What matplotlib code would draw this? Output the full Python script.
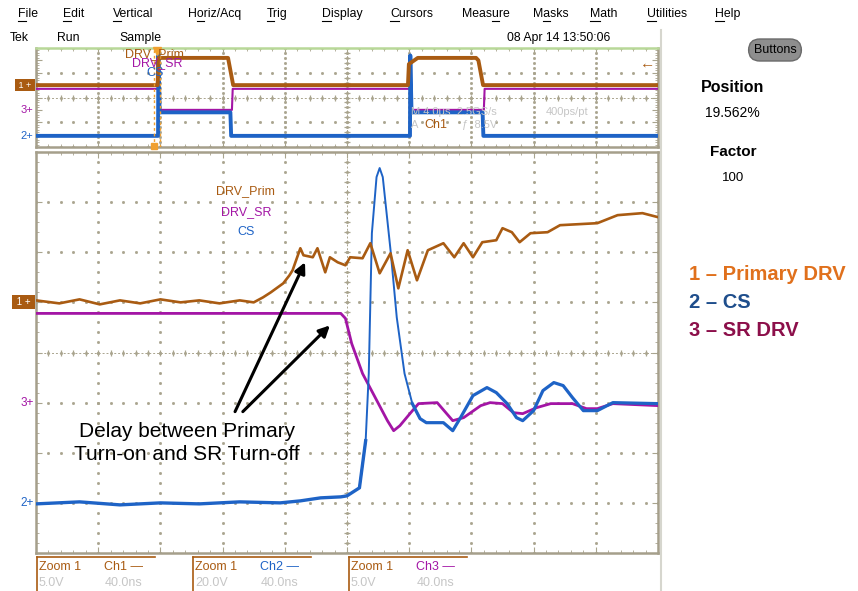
import numpy as np
import matplotlib.pyplot as plt
from matplotlib.lines import Line2D

plt.rcParams["font.family"] = ["Liberation Sans", "DejaVu Sans"]

W, H = 858, 591

BROWN = "#a95b12"
BLUE = "#1e63c6"
PURPLE = "#a315a5"
GRID = "#a9a48e"
FRAME = "#a59f8b"
PALE = "#c6c6c6"

# vertical setup: volts per division and marker position (div)
CH_SCALE = {1: 5.0, 2: 20.0, 3: 5.0}
CH_POS = {1: 1.0, 2: -3.0, 3: -1.0}
ZOOM_NS_DIV = 40.0
MAIN_US_DIV = 4.0

# zoomed window (ns, V)
ch1_t = [0, 15, 28, 41, 54, 67, 80, 93, 105, 118, 131, 140, 146, 151, 159, 163, 165, 170, 172, 178,
         181, 186, 189, 194, 199, 202, 210, 215, 221, 228, 233, 239, 245, 252, 262, 269, 275, 281, 287, 296,
         300, 306, 311, 318, 329, 337, 361, 374, 390, 400]
ch1_v = [0.2, -0.1, 0.3, -0.2, 0.2, -0.1, 0.3, 0.0, 0.2, -0.1, 0.2, 0.0, 0.5, 1.0, 1.9, 2.7, 3.2, 5.4, 4.7, 4.5,
         5.4, 3.0, 4.5, 4.0, 3.7, 4.5, 4.4, 5.9, 2.9, 4.9, 1.4, 5.2, 2.2, 5.2, 5.9, 4.5, 5.9, 4.5, 6.0, 6.2,
         7.4, 7.0, 6.0, 6.9, 7.0, 7.7, 7.9, 8.7, 8.9, 8.5]

ch2_t = [0, 28, 54, 80, 105, 131, 157, 170, 183, 196, 200, 205, 208, 212, 214, 216, 219, 221, 223, 228,
         232, 237, 242, 247, 251, 262, 268, 273, 281, 290, 296, 303, 309, 313, 320, 326, 333, 339, 345, 352,
         361, 371, 400]
ch2_v = [-0.4, 0.4, -0.8, 0.0, -0.4, 0.4, 0.0, 0.8, 2.0, 2.4, 2.8, 4.8, 6.0, 24.8, 51.6, 107.6, 130.0, 133.6, 130.0, 100.8,
         74.0, 51.6, 39.6, 33.6, 32.0, 32.0, 28.8, 34.0, 42.8, 46.0, 44.0, 39.6, 34.0, 32.8, 36.8, 44.8, 48.0, 46.8, 42.0, 36.8,
         36.8, 40.0, 39.6]

ch3_t = [0, 189, 196, 199, 203, 210, 226, 230, 234, 241, 246, 258, 268, 275, 286, 292, 300, 307, 313, 322,
         331, 345, 354, 361, 371, 400]
ch3_v = [8.9, 8.9, 8.9, 8.4, 5.9, 2.9, -1.8, -2.8, -2.3, -1.0, -0.1, 0.0, -1.8, -1.5, -0.3, 0.0, -0.1, -1.0, -1.1, -0.5,
         -0.1, -0.1, -0.6, -0.6, -0.1, -0.3]

# full record (us, V)
top1_t = [0, 7.82, 7.88, 12.35, 12.68, 23.92, 23.98, 24.55, 28.30, 28.45, 28.75, 40]
top1_v = [0, 0, 11, 11, 0, 0, 8.5, 11, 11, 10, 0, 0]
top2_t = [0, 7.85, 7.87, 7.95, 12.5, 12.55, 24.05, 24.07, 24.15, 28.72, 28.77, 40]
top2_v = [0, 0, 130, 38, 38, 0, 0, 130, 38, 38, 0, 0]
top3_t = [0, 7.85, 7.87, 12.6, 12.65, 24.05, 24.07, 28.8, 28.85, 40]
top3_v = [8.5, 8.5, 0, 0, 8.5, 8.5, 0, 0, 8.5, 8.5]

menu = ["File", "Edit", "Vertical", "Horiz/Acq", "Trig", "Display", "Cursors",
        "Measure", "Masks", "Math", "Utilities", "Help"]
menu_key = [0, 0, 0, 1, 0, 0, 0, 4, 1, 0, 0, 0]
menu_x = [18, 63, 113, 188, 267, 322, 390, 462, 533, 590, 647, 715]


def fx(x):
    return x / W


def fy(y):
    return 1 - y / H


def screen(ch, v):
    return CH_POS[ch] + np.asarray(v) / CH_SCALE[ch]


def scope_grid(ax, xdiv, vstep, rows):
    xs = np.arange(0, 10 * xdiv + 1e-9, 0.2 * xdiv)
    ys = np.arange(-4, 4.001, vstep)
    for x in np.arange(1, 10) * xdiv:
        ax.plot(np.full_like(ys, x), ys, ls="none", marker="s", ms=1.0, color=GRID, zorder=1)
    for y in rows:
        ax.plot(xs, np.full_like(xs, y), ls="none", marker="s", ms=1.0, color=GRID, zorder=1)
    ax.plot(np.full_like(ys, 5 * xdiv), ys, ls="none", marker="_", ms=4, mew=0.9, color=GRID, zorder=1)
    ax.plot(xs, np.zeros_like(xs), ls="none", marker="|", ms=4, mew=0.9, color=GRID, zorder=1)
    ax.axhline(0, color=GRID, lw=0.7, ls=(0, (2, 2)), zorder=1)
    ax.axvline(5 * xdiv, color=GRID, lw=0.7, ls=(0, (2, 2)), zorder=1)
    ax.set_xlim(0, 10 * xdiv)
    ax.set_ylim(-4, 4)
    ax.set_xticks(np.arange(11) * xdiv)
    ax.set_yticks(np.arange(-4, 5))
    ax.set_xticks(xs, minor=True)
    ax.set_yticks(np.arange(-4, 4.001, 0.2), minor=True)
    ax.tick_params(which="both", direction="in", color=GRID, top=True, right=True,
                   labelbottom=False, labelleft=False)
    ax.tick_params(which="major", length=4)
    ax.tick_params(which="minor", length=2.5)
    for s in ax.spines.values():
        s.set_color(FRAME)
        s.set_linewidth(1.8)


fig = plt.figure(figsize=(W / 100, H / 100), dpi=100)
fig.patch.set_facecolor("white")

# ---- overview ----
axt = fig.add_axes([fx(36), fy(147), 622 / W, 99 / H])
scope_grid(axt, MAIN_US_DIV, 0.4, [-4, -2, 0, 2, 4])
axt.spines["top"].set_color("#b8d898")
axt.plot(top3_t, screen(3, top3_v), color=PURPLE, lw=1.5, zorder=3)
axt.plot(top2_t, screen(2, top2_v) - 0.1, color=BLUE, lw=2.8, zorder=4)
axt.plot(top1_t, screen(1, top1_v), color=BROWN, lw=2.8, zorder=5)
for xz in (7.6, 7.95):
    axt.axvline(xz, color="#f0a030", lw=1.0, ls=(0, (2, 2)), zorder=6)
axt.plot([7.8], [3.75], marker="v", ms=6, color="#f0a030", zorder=7, clip_on=False)
axt.plot([7.6], [-3.9], marker="s", ms=5, color="#f0a030", zorder=7, clip_on=False)
axt.text(5.7, 3.5, "DRV_Prim", color=BROWN, fontsize=9, va="center", zorder=8)
axt.text(6.15, 2.75, "DRV_SR", color=PURPLE, fontsize=9, va="center", zorder=8)
axt.text(7.1, 2.0, "CS", color=BLUE, fontsize=9, va="center", zorder=8)
axt.text(24.1, -1.15, "M 4.0\u03bcs  2.5GS/s", color=PALE, fontsize=8, va="center", zorder=8)
axt.text(32.8, -1.15, "400ps/pt", color=PALE, fontsize=8, va="center", zorder=8)
axt.text(24.1, -2.25, "A", color=PALE, fontsize=8, va="center", zorder=8)
axt.text(25.0, -2.25, "Ch1", color=BROWN, fontsize=9, va="center", zorder=8)
axt.text(27.4, -2.25, "\u0192  8.5V", color=PALE, fontsize=8, va="center", zorder=8)
axt.text(39.8, 2.7, "\u2190", color=BROWN, fontsize=11, ha="right", va="center", zorder=8)
ty = axt.get_yaxis_transform()
axt.text(-0.004, CH_POS[1], " 1 + ", transform=ty, ha="right", va="center", fontsize=6.5,
         color="white", bbox=dict(boxstyle="square,pad=0.15", fc=BROWN, ec="none"), clip_on=False)
axt.text(-0.004, CH_POS[3] - 0.05, "3+", transform=ty, ha="right", va="center", fontsize=8,
         color=PURPLE, clip_on=False)
axt.text(-0.004, CH_POS[2] - 0.1, "2+", transform=ty, ha="right", va="center", fontsize=8,
         color=BLUE, clip_on=False)

# ---- zoomed window ----
ax = fig.add_axes([fx(36), fy(553), 622 / W, 401 / H])
scope_grid(ax, ZOOM_NS_DIV, 0.2, list(range(-3, 4)))
t2 = np.array(ch2_t)
y2 = screen(2, ch2_v)
ax.plot(ch3_t, screen(3, ch3_v), color=PURPLE, lw=2.0, zorder=3)
ax.plot(t2[t2 <= 212], y2[t2 <= 212], color=BLUE, lw=2.4, zorder=4)
ax.plot(t2[(t2 >= 208) & (t2 <= 247)], y2[(t2 >= 208) & (t2 <= 247)], color=BLUE, lw=1.4, zorder=4)
ax.plot(t2[t2 >= 242], y2[t2 >= 242], color=BLUE, lw=2.3, zorder=4)
ax.plot(ch1_t, screen(1, ch1_v), color=BROWN, lw=1.9, zorder=5)
ax.text(135, 3.22, "DRV_Prim", color=BROWN, fontsize=9, ha="center", va="center")
ax.text(135, 2.8, "DRV_SR", color=PURPLE, fontsize=9, ha="center", va="center")
ax.text(135, 2.4, "CS", color=BLUE, fontsize=9, ha="center", va="center")
ty = ax.get_yaxis_transform()
ax.text(-0.004, CH_POS[1], " 1 + ", transform=ty, ha="right", va="center", fontsize=7,
        color="white", bbox=dict(boxstyle="square,pad=0.2", fc=BROWN, ec="none"), clip_on=False)
ax.text(-0.004, CH_POS[3], "3+", transform=ty, ha="right", va="center", fontsize=8.5,
        color=PURPLE, clip_on=False)
ax.text(-0.004, CH_POS[2], "2+", transform=ty, ha="right", va="center", fontsize=8.5,
        color=BLUE, clip_on=False)

arrow = dict(arrowstyle="-|>", color="black", lw=2.2, mutation_scale=16, shrinkA=0, shrinkB=0)
ax.annotate("", xy=(173, 1.8), xytext=(128, -1.18), arrowprops=arrow, zorder=9)
ax.annotate("", xy=(189, 0.54), xytext=(133, -1.18), arrowprops=arrow, zorder=9)
fig.text(fx(187), fy(443), "Delay between Primary\nTurn-on and SR Turn-off", ha="center",
         va="center", fontsize=15, linespacing=1.25, color="black")

# ---- bottom readouts ----
ch_color = {1: BROWN, 2: BLUE, 3: PURPLE}
for i, x0 in zip((1, 2, 3), (37, 193, 349)):
    fig.add_artist(Line2D([fx(x0), fx(x0 + 118)], [fy(557), fy(557)], color=BROWN, lw=1.2))
    fig.add_artist(Line2D([fx(x0), fx(x0)], [fy(557), fy(591)], color=BROWN, lw=1.2))
    fig.text(fx(x0 + 2), fy(567), "Zoom 1", color=BROWN, fontsize=9, va="center")
    fig.text(fx(x0 + 67), fy(567), f"Ch{i} \u2014", color=ch_color[i], fontsize=9, va="center")
    fig.text(fx(x0 + 2), fy(583), f"{CH_SCALE[i]:.1f}V", color=PALE, fontsize=9, va="center")
    fig.text(fx(x0 + 68), fy(583), f"{ZOOM_NS_DIV:.1f}ns", color=PALE, fontsize=9, va="center")

# ---- menu / status ----
fig.canvas.draw()
r = fig.canvas.get_renderer()
for label, k, x in zip(menu, menu_key, menu_x):
    fig.text(fx(x), fy(14), label, fontsize=8.8, va="center", color="black")
    a = fig.text(0, 0, label[:k], fontsize=8.8)
    b = fig.text(0, 0, label[:k + 1], fontsize=8.8)
    w0 = a.get_window_extent(r).width if k else 0
    w1 = b.get_window_extent(r).width
    a.remove()
    b.remove()
    fig.add_artist(Line2D([fx(x + w0), fx(x + w1)], [fy(21), fy(21)], color="black", lw=0.8))

fig.text(fx(10), fy(38), "Tek", fontsize=8.8, va="center")
fig.text(fx(57), fy(38), "Run", fontsize=8.8, va="center")
fig.text(fx(119), fy(38), "Sample", fontsize=8.8, va="center")
fig.text(fx(507), fy(38), "08 Apr 14 13:50:06", fontsize=8.8, va="center")

# ---- side panel ----
fig.add_artist(Line2D([fx(661), fx(661)], [fy(30), fy(591)], color="#d6d6ce", lw=1.5))
fig.text(fx(775), fy(50), "Buttons", fontsize=9, ha="center", va="center",
         bbox=dict(boxstyle="round,pad=0.4,rounding_size=0.9", fc="#8e8e8e", ec="#6a6a6a"))
fig.text(fx(733), fy(87), "Position", fontsize=11.5, weight="bold", ha="center", va="center")
fig.text(fx(732), fy(113), "19.562%", fontsize=10, ha="center", va="center")
fig.text(fx(733), fy(152), "Factor", fontsize=11, weight="bold", ha="center", va="center")
fig.text(fx(733), fy(178), "100", fontsize=9.5, ha="center", va="center")

fig.text(fx(689), fy(275), "1 \u2013 Primary DRV", fontsize=14.5, weight="bold", color="#e0701c", va="center")
fig.text(fx(689), fy(302), "2 \u2013 CS", fontsize=14.5, weight="bold", color="#1f4e8c", va="center")
fig.text(fx(689), fy(330), "3 \u2013 SR DRV", fontsize=14.5, weight="bold", color="#8c0f4a", va="center")

fig.savefig("out.png", dpi=100)
